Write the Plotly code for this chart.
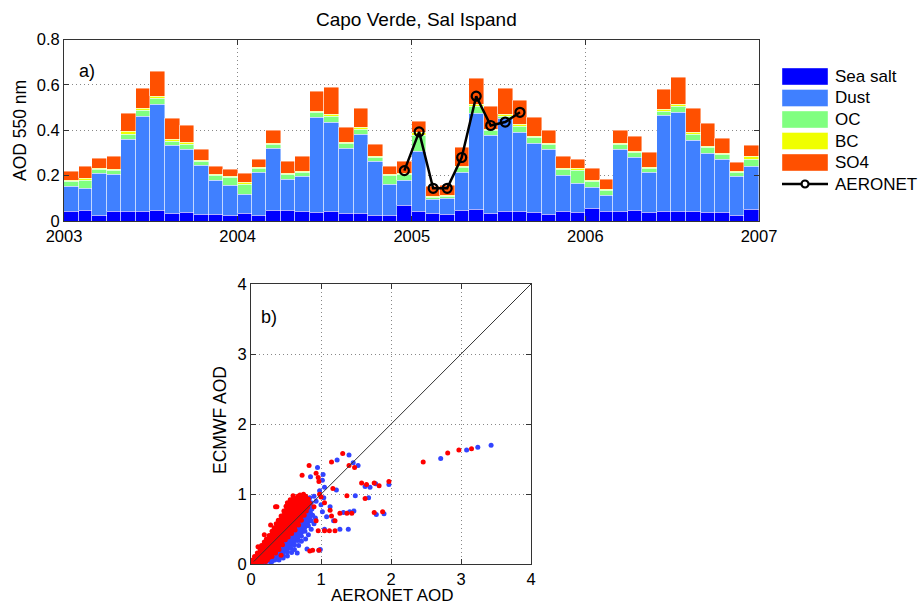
import plotly.graph_objects as go
import pandas as pd

W, H = 919, 606
FONT = "Liberation Sans, Arial, Helvetica, sans-serif"

# ---------------- data: monthly AOD components (2003-01 .. 2006-12) ----------------
months = pd.date_range("2003-01-01", periods=48, freq="MS")
sea_salt = [0.041, 0.047, 0.023, 0.041, 0.041, 0.041, 0.047, 0.032, 0.038, 0.029, 0.029, 0.026,
            0.034, 0.026, 0.046, 0.046, 0.041, 0.038, 0.043, 0.034, 0.034, 0.026, 0.026, 0.069,
            0.041, 0.034, 0.029, 0.046, 0.051, 0.034, 0.044, 0.043, 0.038, 0.029, 0.040, 0.038,
            0.057, 0.043, 0.043, 0.046, 0.038, 0.043, 0.044, 0.040, 0.037, 0.037, 0.023, 0.051]
dust = [0.110, 0.097, 0.187, 0.162, 0.320, 0.421, 0.467, 0.300, 0.275, 0.216, 0.149, 0.130,
        0.083, 0.187, 0.275, 0.139, 0.154, 0.419, 0.390, 0.286, 0.346, 0.237, 0.135, 0.110,
        0.264, 0.061, 0.069, 0.170, 0.422, 0.342, 0.408, 0.346, 0.304, 0.287, 0.160, 0.128,
        0.090, 0.071, 0.271, 0.234, 0.178, 0.421, 0.433, 0.315, 0.262, 0.236, 0.174, 0.190]
oc = [0.022, 0.036, 0.018, 0.019, 0.021, 0.025, 0.026, 0.020, 0.026, 0.018, 0.022, 0.035,
      0.044, 0.019, 0.015, 0.019, 0.018, 0.020, 0.029, 0.022, 0.022, 0.017, 0.039, 0.024,
      0.074, 0.009, 0.009, 0.019, 0.030, 0.022, 0.010, 0.029, 0.024, 0.020, 0.026, 0.057,
      0.029, 0.020, 0.022, 0.021, 0.017, 0.020, 0.026, 0.028, 0.024, 0.021, 0.019, 0.032]
bc = [0.007, 0.008, 0.004, 0.006, 0.011, 0.009, 0.009, 0.006, 0.006, 0.004, 0.007, 0.007,
      0.009, 0.004, 0.006, 0.006, 0.006, 0.007, 0.009, 0.006, 0.008, 0.006, 0.006, 0.007,
      0.010, 0.006, 0.006, 0.007, 0.009, 0.006, 0.006, 0.008, 0.005, 0.006, 0.006, 0.009,
      0.004, 0.005, 0.006, 0.004, 0.005, 0.008, 0.009, 0.007, 0.004, 0.004, 0.004, 0.010]
so4 = [0.039, 0.051, 0.044, 0.057, 0.081, 0.088, 0.112, 0.094, 0.075, 0.046, 0.035, 0.031,
       0.038, 0.036, 0.059, 0.053, 0.066, 0.088, 0.119, 0.066, 0.086, 0.052, 0.033, 0.053,
       0.050, 0.041, 0.042, 0.081, 0.115, 0.102, 0.118, 0.104, 0.086, 0.059, 0.053, 0.038,
       0.053, 0.043, 0.059, 0.066, 0.063, 0.088, 0.122, 0.106, 0.102, 0.067, 0.037, 0.049]

aeronet_months = pd.date_range("2004-12-01", periods=9, freq="MS")
aeronet = [0.222, 0.393, 0.144, 0.144, 0.280, 0.550, 0.421, 0.436, 0.479]

series_names = ["Sea salt", "Dust", "OC", "BC", "SO4"]
series_vals = [sea_salt, dust, oc, bc, so4]
series_cols = ["#0000FF", "#4080FF", "#80FF80", "#F0FF00", "#FF5000"]

year_ticks = ["2003", "2004", "2005", "2006", "2007"]
y_ticks_top = [0, 0.2, 0.4, 0.6, 0.8]

# ---------------- data: scatter ECMWF vs AERONET ----------------
blue_core_x = [0.04, 0.12, 0.20, 0.28, 0.34, 0.40, 0.46, 0.52, 0.57, 0.62, 0.67, 0.72, 0.77, 0.82, 0.86,
               0.88, 0.87, 0.86, 0.84, 0.50, 0.05]
blue_core_y = [0.00, 0.00, 0.01, 0.03, 0.06, 0.09, 0.13, 0.18, 0.23, 0.28, 0.34, 0.40, 0.47, 0.55, 0.62,
               0.70, 0.79, 0.88, 0.95, 0.50, 0.05]
red_core_x = [0.03, 0.02, 0.05, 0.09, 0.13, 0.15, 0.19, 0.22, 0.26, 0.30, 0.33, 0.36, 0.39, 0.43, 0.47,
              0.50, 0.52, 0.56, 0.61, 0.67, 0.73, 0.78, 0.82, 0.84, 0.81, 0.79, 0.76, 0.72, 0.68, 0.63,
              0.58, 0.53, 0.49, 0.45, 0.40, 0.35, 0.30, 0.26, 0.21, 0.15, 0.09]
red_core_y = [0.02, 0.06, 0.11, 0.16, 0.21, 0.27, 0.32, 0.36, 0.41, 0.47, 0.52, 0.58, 0.63, 0.69, 0.76,
              0.83, 0.88, 0.92, 0.95, 0.97, 0.96, 0.97, 0.93, 0.87, 0.81, 0.76, 0.70, 0.63, 0.56, 0.49,
              0.44, 0.39, 0.35, 0.28, 0.21, 0.16, 0.11, 0.07, 0.04, 0.02, 0.01]
blue_x = [0.30, 0.40, 0.46, 0.52, 0.58, 0.62, 0.68, 0.72, 0.78, 0.82, 0.86, 0.90, 0.92, 0.80, 0.66, 0.97,
          1.02, 1.00, 1.04, 0.98, 1.05, 1.02, 1.03, 0.95, 0.85, 0.90, 0.93, 1.40, 1.23, 1.46, 1.53, 1.63,
          1.70, 1.78, 1.97, 1.22, 1.49, 1.68, 1.32, 1.41, 1.47, 1.79, 1.90, 1.27, 1.39, 1.05, 1.13, 0.99,
          2.71, 3.08, 3.24, 3.43, 1.18, 1.08]
blue_y = [0.04, 0.06, 0.09, 0.12, 0.17, 0.21, 0.27, 0.33, 0.36, 0.42, 0.50, 0.58, 0.66, 0.22, 0.16, 0.20,
          0.75, 0.85, 0.95, 1.05, 1.10, 1.20, 1.28, 1.38, 1.25, 0.97, 0.90, 1.56, 1.49, 1.45, 1.41, 1.11,
          1.10, 1.15, 1.14, 1.06, 0.98, 0.95, 0.74, 0.75, 0.76, 0.71, 0.72, 0.50, 0.50, 0.50, 0.82, 0.21,
          1.51, 1.63, 1.67, 1.70, 0.62, 0.68]
red_x = [0.73, 0.83, 0.93, 0.96, 0.97, 0.98, 1.00, 0.90, 0.35, 0.75, 0.88, 0.84, 0.43, 1.15, 1.31, 1.40,
         1.48, 1.58, 1.65, 1.76, 1.83, 1.97, 1.17, 1.37, 1.63, 1.13, 1.27, 1.37, 1.44, 1.76, 1.88, 0.96,
         1.05, 1.12, 1.20, 1.20, 1.15, 0.97, 2.46, 2.81, 2.97, 3.15, 1.05, 0.93, 0.19, 0.37, 0.10, 0.28,
         0.60, 0.70]
red_y = [1.27, 1.41, 1.30, 1.24, 1.18, 1.00, 0.96, 0.82, 0.82, 1.00, 0.20, 0.19, 0.13, 1.46, 1.58, 1.41,
         1.38, 1.16, 1.14, 1.16, 1.12, 1.18, 1.08, 0.98, 0.94, 0.77, 0.73, 0.73, 0.73, 0.74, 0.75, 0.48,
         0.48, 0.48, 0.48, 0.62, 0.69, 0.20, 1.46, 1.59, 1.63, 1.65, 0.88, 0.62, 0.42, 0.82, 0.25, 0.56,
         0.98, 0.99]
one_to_one = [0.04, 4.0]
scatter_ticks = [0, 1, 2, 3, 4]

# ---------------- figure ----------------
fig = go.Figure()

month_len_ms = [(m + pd.offsets.MonthBegin(1) - m).days * 86400000 for m in months]
for name, vals, col in zip(series_names, series_vals, series_cols):
    fig.add_trace(go.Bar(
        x=months, y=vals, name=name, width=month_len_ms, offset=0,
        marker=dict(color=col, line=dict(color="rgba(255,255,255,0.55)", width=0.8)),
        xaxis="x", yaxis="y", showlegend=False))

aeronet_mid = [m + (m + pd.offsets.MonthBegin(1) - m) / 2 for m in aeronet_months]
fig.add_trace(go.Scatter(
    x=aeronet_mid, y=aeronet, mode="lines+markers", name="AERONET",
    line=dict(color="black", width=2.5),
    marker=dict(symbol="circle-open", size=9, color="black", line=dict(width=2.2)),
    xaxis="x", yaxis="y", showlegend=False))

# scatter panel
fig.add_trace(go.Scatter(x=blue_core_x, y=blue_core_y, mode="lines+markers", fill="toself",
                         fillcolor="#3344FF", line=dict(color="#3344FF", width=1),
                         marker=dict(color="#3344FF", size=5), xaxis="x2", yaxis="y2", showlegend=False))
fig.add_trace(go.Scatter(x=red_core_x, y=red_core_y, mode="lines+markers", fill="toself",
                         fillcolor="#FF0000", line=dict(color="#FF0000", width=1),
                         marker=dict(color="#FF0000", size=5), xaxis="x2", yaxis="y2", showlegend=False))
fig.add_trace(go.Scatter(x=blue_x, y=blue_y, mode="markers",
                         marker=dict(color="#3344FF", size=5), xaxis="x2", yaxis="y2", showlegend=False))
fig.add_trace(go.Scatter(x=red_x, y=red_y, mode="markers",
                         marker=dict(color="#FF0000", size=5), xaxis="x2", yaxis="y2", showlegend=False))
fig.add_trace(go.Scatter(x=one_to_one, y=one_to_one, mode="lines",
                         line=dict(color="#333333", width=1), xaxis="x2", yaxis="y2", showlegend=False))

def px(x):
    return x / W

def py(y):
    return 1 - y / H

axis_common = dict(showline=True, linecolor="#333333", linewidth=1, mirror="ticks",
                   ticks="inside", ticklen=5, tickcolor="#333333", automargin=False,
                   showgrid=True, gridcolor="#888888", griddash="1px,3px", gridwidth=1,
                   zeroline=False, tickfont=dict(family=FONT, size=16.5, color="black"))

fig.update_layout(
    width=W, height=H, margin=dict(l=0, r=0, t=0, b=0, autoexpand=False),
    paper_bgcolor="white", plot_bgcolor="white",
    barmode="stack", bargap=0,
    font=dict(family=FONT, color="black"),
    xaxis=dict(domain=[px(64), px(759)], anchor="y", type="date",
               range=[months[0], months[0] + pd.DateOffset(years=4)],
               tickvals=[pd.Timestamp(f"{y}-01-01") for y in year_ticks], ticktext=year_ticks,
               **axis_common),
    yaxis=dict(domain=[py(221), py(39.5)], anchor="x", range=[0, 0.8],
               tickvals=y_ticks_top, ticktext=["0", "0.2", "0.4", "0.6", "0.8"],
               **axis_common),
    xaxis2=dict(domain=[px(251), px(531)], anchor="y2", range=[0, 4],
                tickvals=scatter_ticks, **axis_common),
    yaxis2=dict(domain=[py(564.3), py(284)], anchor="x2", range=[0, 4],
                tickvals=scatter_ticks, **axis_common),
)

ann = []
ann.append(dict(text="Capo Verde, Sal Ispand", x=px(416), y=py(20), xref="paper", yref="paper",
                showarrow=False, font=dict(size=19, family=FONT), xanchor="center", yanchor="middle"))
ann.append(dict(text="AOD 550 nm", x=px(20), y=py(131), xref="paper", yref="paper", textangle=-90,
                showarrow=False, font=dict(size=17.5, family=FONT), xanchor="center", yanchor="middle"))
ann.append(dict(text="a)", x=px(77), y=py(71), xref="paper", yref="paper",
                showarrow=False, font=dict(size=18, family=FONT), xanchor="left", yanchor="middle"))
ann.append(dict(text="b)", x=px(259), y=py(317), xref="paper", yref="paper",
                showarrow=False, font=dict(size=18, family=FONT), xanchor="left", yanchor="middle"))
ann.append(dict(text="ECMWF AOD", x=px(220), y=py(420), xref="paper", yref="paper", textangle=-90,
                showarrow=False, font=dict(size=17.5, family=FONT), xanchor="center", yanchor="middle"))
ann.append(dict(text="AERONET AOD", x=px(392), y=py(595.5), xref="paper", yref="paper",
                showarrow=False, font=dict(size=17, family=FONT), xanchor="center", yanchor="middle"))

shapes = []
leg_x0, leg_x1, leg_y0, leg_dy = 782, 828, 76.5, 21.5
for i, (name, col) in enumerate(zip(series_names + ["AERONET"], series_cols + [None])):
    yc = leg_y0 + i * leg_dy
    if col is not None:
        shapes.append(dict(type="rect", xref="paper", yref="paper",
                           x0=px(leg_x0), x1=px(leg_x1), y0=py(yc + 8.5), y1=py(yc - 8.5),
                           fillcolor=col, line=dict(color="rgba(255,255,255,0.5)", width=0.8)))
    else:
        shapes.append(dict(type="line", xref="paper", yref="paper",
                           x0=px(leg_x0), x1=px(leg_x1), y0=py(yc), y1=py(yc),
                           line=dict(color="black", width=2.5)))
        shapes.append(dict(type="circle", xref="paper", yref="paper",
                           x0=px(805 - 3.5), x1=px(805 + 3.5), y0=py(yc + 3.5), y1=py(yc - 3.5),
                           fillcolor="white", line=dict(color="black", width=2.2)))
    ann.append(dict(text=name, x=px(833), y=py(yc), xref="paper", yref="paper", showarrow=False,
                    font=dict(size=17, family=FONT), xanchor="left", yanchor="middle"))

fig.update_layout(annotations=ann, shapes=shapes)
fig.write_html("out.html")
